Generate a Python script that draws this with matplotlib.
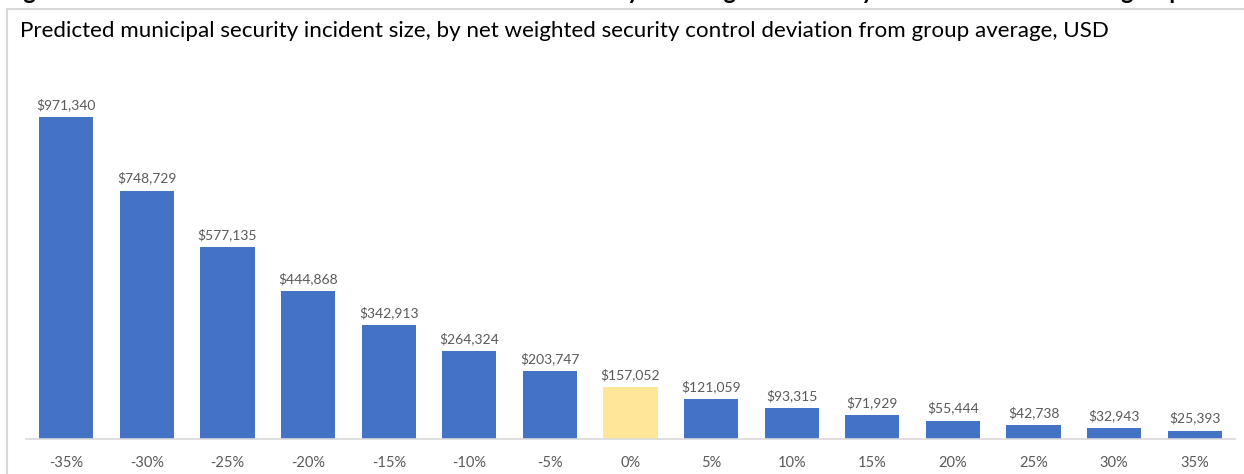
import matplotlib
matplotlib.use('Agg')
import matplotlib.pyplot as plt
from matplotlib.patches import Rectangle

# 데이터
deviation = ['-35%', '-30%', '-25%', '-20%', '-15%', '-10%', '-5%', '0%',
             '5%', '10%', '15%', '20%', '25%', '30%', '35%']
incident_size = [971340, 748729, 577135, 444868, 342913, 264324, 203747, 157052,
                 121059, 93315, 71929, 55444, 42738, 32943, 25393]
highlight = '0%'

blue = '#4472C4'
yellow = '#FFE699'
text_gray = '#595959'

plt.rcParams['font.family'] = ['Lato', 'DejaVu Sans']

fig = plt.figure(figsize=(12.44, 4.74), dpi=100)

# 바깥 테두리 (차트 영역)
fig.patches.append(Rectangle((7 / 1244, -0.1), 1.2, (474 - 9) / 474 + 0.1,
                             transform=fig.transFigure, fill=False,
                             edgecolor='#D9D9D9', linewidth=1.5))

# 위쪽이 잘린 제목 (아래 부분만 보임)
fig.text(4 / 1244, 1 + 1 / 474,
         'Figure 4: Forecasted median incident size across US cities by net weighted security control deviation from group',
         fontsize=17, fontweight='bold', color='black', va='baseline', ha='left')

fig.text(20 / 1244, 1 - 31 / 474,
         'Predicted municipal security incident size, by net weighted security control deviation from group average, USD',
         fontsize=16.1, color='black', va='center', ha='left')

ax = fig.add_axes([26 / 1244, 35 / 474, 1209 / 1244, 365 / 474])
x = list(range(len(deviation)))
colors = [yellow if d == highlight else blue for d in deviation]
ax.bar(x, incident_size, width=0.67, color=colors)

for i, v in enumerate(incident_size):
    ax.text(i, v + 18000, '${:,}'.format(v), ha='center', va='bottom',
            fontsize=10, color=text_gray)

ax.set_xlim(-0.5, len(deviation) - 0.5)
ax.set_ylim(0, 1100000)
ax.set_xticks(x)
ax.set_xticklabels(deviation, fontsize=10.5, color=text_gray)
ax.tick_params(axis='x', length=0, pad=12)
ax.set_yticks([])
for s in ['top', 'right', 'left']:
    ax.spines[s].set_visible(False)
ax.spines['bottom'].set_color('#D9D9D9')
ax.spines['bottom'].set_linewidth(1.2)

fig.savefig('out.png', dpi=100)
